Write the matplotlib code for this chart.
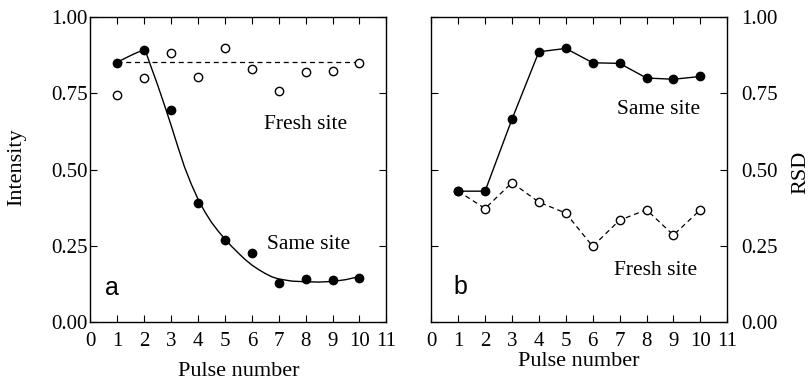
import matplotlib
matplotlib.use("Agg")
import matplotlib.pyplot as plt
import numpy as np

# pulse numbers
pulses = np.arange(1, 11)

# panel a: intensity
same_int = [0.850, 0.891, 0.696, 0.390, 0.270, 0.226, 0.129, 0.142, 0.137, 0.145]
fresh_int = [0.745, 0.800, 0.882, 0.803, 0.898, 0.831, 0.756, 0.820, 0.822, 0.849]
fresh_mean = 0.852

# fitted curve through same-site intensities
fit_x = [1.0, 1.25, 1.5, 1.75, 2.03, 2.25, 2.5, 2.75, 3.0, 3.25, 3.5, 3.75,
         4.0, 4.25, 4.5, 4.75, 5.0, 5.25, 5.5, 5.75, 6.0, 6.25, 6.5, 6.75,
         7.0, 7.5, 8.0, 8.5, 9.0, 9.5, 10.0]
fit_y = [0.852, 0.863, 0.874, 0.884, 0.893, 0.838, 0.777, 0.712, 0.645, 0.575,
         0.508, 0.452, 0.403, 0.362, 0.327, 0.298, 0.272, 0.248, 0.226, 0.205,
         0.187, 0.172, 0.159, 0.148, 0.141, 0.134, 0.132, 0.131, 0.133, 0.139,
         0.149]

# panel b: RSD
same_rsd = [0.429, 0.429, 0.665, 0.886, 0.897, 0.850, 0.848, 0.800, 0.796, 0.805]
fresh_rsd = [0.429, 0.372, 0.457, 0.393, 0.357, 0.248, 0.334, 0.368, 0.285, 0.368]

xticks = list(range(0, 12))
yticks = [0.00, 0.25, 0.50, 0.75, 1.00]

serif = "Liberation Serif"
sans = "Liberation Sans"

fig = plt.figure(figsize=(8.12, 3.8), dpi=100)
ax1 = fig.add_axes([0.1113, 0.1526, 0.3645, 0.8026])
ax2 = fig.add_axes([0.5311, 0.1526, 0.3645, 0.8026])

for ax in (ax1, ax2):
    ax.set_xlim(0, 11)
    ax.set_ylim(0, 1)
    ax.set_xticks(xticks)
    ax.set_yticks(yticks)
    ax.set_xticklabels([str(t) for t in xticks], fontfamily=serif, fontsize=15)
    ax.set_yticklabels(["%.2f" % t for t in yticks], fontfamily=serif, fontsize=15)
    ax.tick_params(direction="in", top=True, right=True, length=5, width=0.8,
                   color="black")
    ax.tick_params(axis="x", pad=7)
    for s in ax.spines.values():
        s.set_linewidth(1.0)

ax1.tick_params(axis="y", pad=2)
ax2.tick_params(axis="y", pad=10)

# --- panel a
ax1.plot([1, 10], [fresh_mean, fresh_mean], ls=(0, (4, 3)), color="black", lw=0.9)
ax1.plot(fit_x, fit_y, color="black", lw=1.0)
ax1.plot(pulses, same_int, "o", color="black", ms=6, zorder=3)
ax1.plot(pulses, fresh_int, "o", mfc="white", mec="black", mew=1.0, ms=6, zorder=3)
ax1.set_xlabel("Pulse number", fontfamily=serif, fontsize=16, labelpad=8)
ax1.text(7.98, 0.649, "Fresh site", fontfamily=serif, fontsize=15.5,
         ha="center", va="center")
ax1.text(8.12, 0.255, "Same site", fontfamily=serif, fontsize=15.5,
         ha="center", va="center")
ax1.text(0.79, 0.11, "a", fontfamily=sans, fontsize=18, ha="center", va="center")

# --- panel b
ax2.plot(pulses, fresh_rsd, ls=(0, (4, 3)), color="black", lw=0.9, marker="o",
         mfc="white", mec="black", mew=1.0, ms=6)
ax2.plot(pulses, same_rsd, "-o", color="black", lw=1.0, ms=6, zorder=3)
ax2.tick_params(labelleft=False, labelright=True)
ax2.set_xlabel("Pulse number", fontfamily=serif, fontsize=16, labelpad=1)
ax2.text(8.44, 0.698, "Same site", fontfamily=serif, fontsize=15.5,
         ha="center", va="center")
ax2.text(8.34, 0.168, "Fresh site", fontfamily=serif, fontsize=15.5,
         ha="center", va="center")
ax2.text(1.09, 0.115, "b", fontfamily=sans, fontsize=18, ha="center", va="center")

fig.text(17 / 812, 1 - 166.7 / 380, "Intensity", rotation=90, fontfamily=serif,
         fontsize=16, ha="center", va="center")
fig.text(801 / 812, 1 - 172 / 380, "RSD", rotation=90, fontfamily=serif,
         fontsize=16, ha="center", va="center")

fig.savefig("out.png", dpi=100)
